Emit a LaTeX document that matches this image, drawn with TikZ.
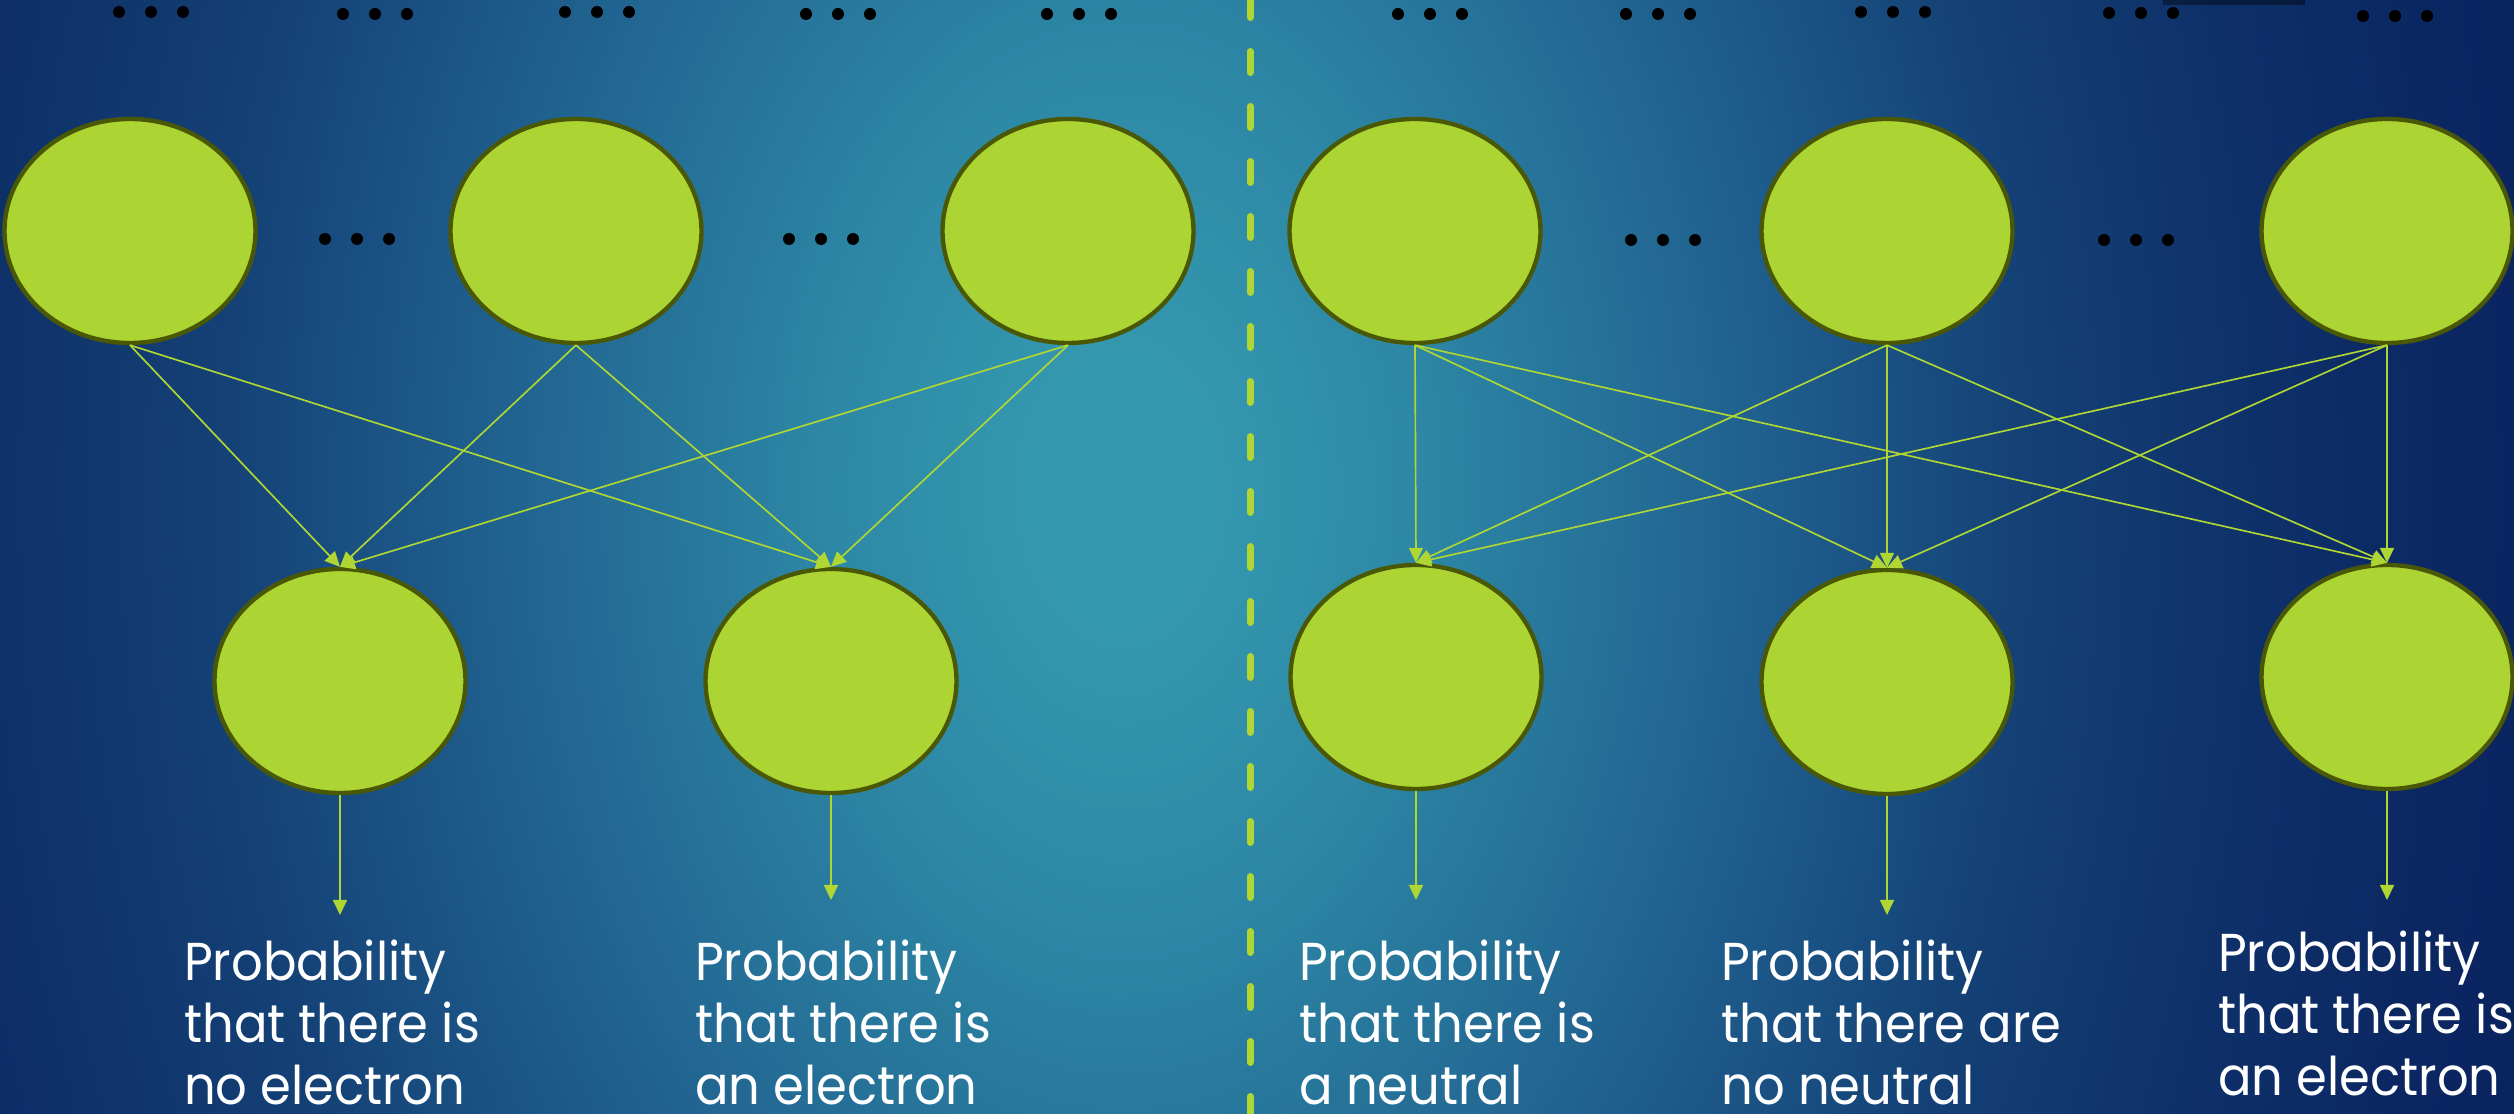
\documentclass[tikz,border=0pt]{standalone}
\usepackage{fontspec}
\usetikzlibrary{shapes.geometric,arrows.meta}

\newfontfamily\probfont{Poppins}[FakeStretch=0.93]

\definecolor{unitfill}{RGB}{172,212,50}
\definecolor{unitedge}{RGB}{74,88,6}
\definecolor{linkcol}{RGB}{176,214,52}
\definecolor{bgA}{RGB}{52,152,175}
\definecolor{bgB}{RGB}{45,135,165}
\definecolor{bgC}{RGB}{33,100,145}
\definecolor{bgD}{RGB}{20,65,118}
\definecolor{bgE}{RGB}{14,48,105}
\definecolor{bgF}{RGB}{10,36,96}

% slide background, bright in the middle and navy towards the edges
% (only the inner 25bp radius reaches the path border)
\pgfdeclareradialshading{slidebg}{\pgfpoint{0bp}{0bp}}{%
  color(0bp)=(bgA); color(1.5bp)=(bgA); color(5bp)=(bgB); color(10bp)=(bgC);
  color(15bp)=(bgD); color(19bp)=(bgE); color(23.5bp)=(bgF); color(50bp)=(bgF)}

\tikzset{every picture/.style={line width=0.75pt}}
\tikzset{
  unit/.style={ellipse, draw=unitedge, fill=unitfill, line width=1.3pt,
    minimum width=75.3pt, minimum height=67.2pt, inner sep=0pt},
  link/.style={draw=linkcol, line width=0.5pt, -{Triangle[length=4.5pt,width=4.2pt]}},
  caption/.style={anchor=north west, inner sep=0pt, align=left, text=white,
    font=\probfont\fontsize{16}{18.6}\selectfont},
}

\begin{document}
\begin{tikzpicture}[x=0.3pt,y=0.3pt,yscale=-1,xscale=1]
\useasboundingbox (0,0) rectangle (2514,1114);

% background, stretched upright so it fades slower top to bottom
\begin{scope}
\clip (0,0) rectangle (2514,1114);
\shade[shading=slidebg] (-378,-1710) rectangle (2622,2690);
\fill[black, opacity=0.4] (2163,0) rectangle (2305,5);
\end{scope}

% separator
\draw[linkcol, line width=2.1pt, line cap=round, dash pattern=on 6.3pt off 10.2pt, dash phase=1.05pt] (1250,0) -- (1250,1114);

% dots along the top edge
\foreach \x/\y in {151/12, 375/14, 597/12, 838/14, 1079/14, 1430/14, 1658/14, 1893/12, 2141/13, 2395/16}
  \foreach \k in {-1,0,1}
    \fill (\x+32*\k,\y) circle [radius=6];

% dots between the input units
\foreach \x/\y in {357/239, 821/239, 1663/240, 2136/240}
  \foreach \k in {-1,0,1}
    \fill (\x+32*\k,\y) circle [radius=6];

% left network
\node[unit] (lt1) at (130,231) {};
\node[unit] (lt2) at (576,231) {};
\node[unit] (lt3) at (1068,231) {};
\node[unit] (lo1) at (340,681) {};
\node[unit] (lo2) at (831,681) {};

% right network
\node[unit] (rt1) at (1415,231) {};
\node[unit] (rt2) at (1887,231) {};
\node[unit] (rt3) at (2387,231) {};
\node[unit] (ro1) at (1416,677) {};
\node[unit] (ro2) at (1887,682) {};
\node[unit] (ro3) at (2387,677) {};

\foreach \i in {1,2,3}
  \foreach \j in {1,2}
    \draw[link] (lt\i.south) -- (lo\j.north);
\foreach \i in {1,2,3}
  \foreach \j in {1,2,3}
    \draw[link] (rt\i.south) -- (ro\j.north);

% outputs
\coordinate (lp1) at (340,915);
\coordinate (lp2) at (831,900);
\coordinate (rp1) at (1416,900);
\coordinate (rp2) at (1887,915);
\coordinate (rp3) at (2387,900);
\draw[link] (lo1.south) -- (lp1);
\draw[link] (lo2.south) -- (lp2);
\draw[link] (ro1.south) -- (rp1);
\draw[link] (ro2.south) -- (rp2);
\draw[link] (ro3.south) -- (rp3);

\node[caption] (lc1) at (183,939) {Probability\\that there is\\no electron};
\node[caption] (lc2) at (694,939) {Probability\\that there is\\an electron};
\node[caption] (rc1) at (1298,939) {Probability\\that there is\\a neutral};
\node[caption] (rc2) at (1720,939) {Probability\\that there are\\no neutral};
\node[caption] (rc3) at (2217,930) {Probability\\that there is\\an electron};

\end{tikzpicture}
\end{document}
